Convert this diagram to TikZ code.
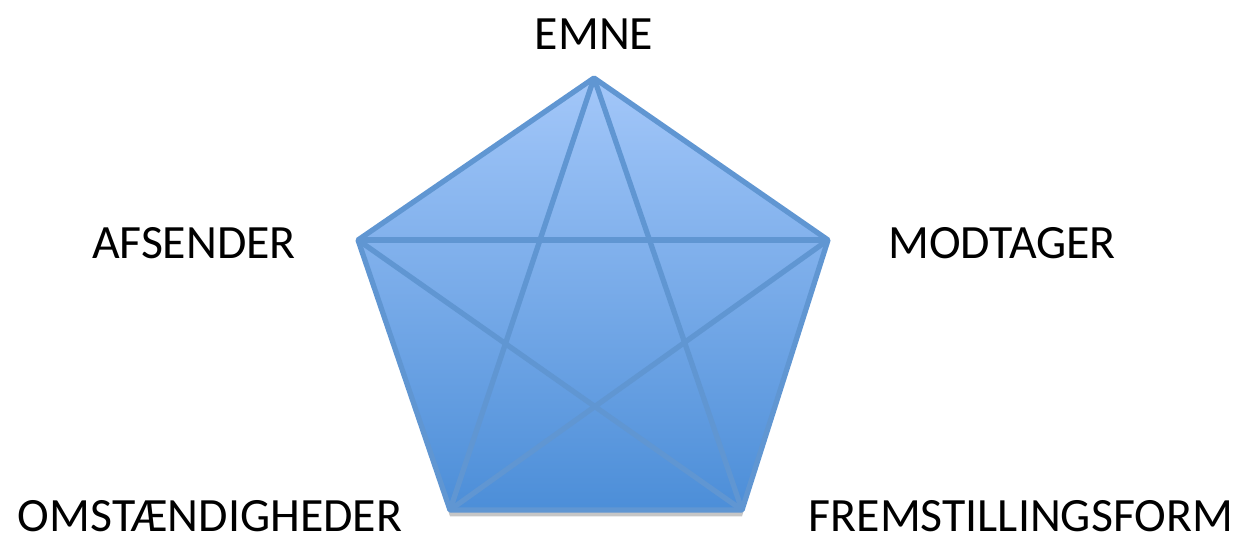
\documentclass[tikz,border=0pt]{standalone}
\usepackage{fontspec}
\setmainfont{Carlito}
\usetikzlibrary{shadows}
\definecolor{pentop}{RGB}{163, 199, 249}
\definecolor{penbot}{RGB}{76, 142, 216}
\definecolor{penline}{RGB}{96, 150, 210}

\begin{document}
\begin{tikzpicture}[label/.style={font=\fontsize{13.6}{16}\selectfont, text=black, inner sep=1pt}]
  \useasboundingbox (0,0) rectangle (12.47,5.40);

  % Corners of the pentagon
  \coordinate (E) at (5.94, 4.62);
  \coordinate (A) at (3.58, 3.00);
  \coordinate (M) at (8.28, 3.00);
  \coordinate (O) at (4.50, 0.30);
  \coordinate (F) at (7.42, 0.30);

  % Filled pentagon
  \shade[top color=pentop, bottom color=penbot,
    drop shadow={opacity=0.45, shadow xshift=0pt, shadow yshift=-1.8pt}]
    (E) -- (M) -- (F) -- (O) -- (A) -- cycle;

  % Edges and diagonals
  \draw[penline, line width=1.5pt, line join=round] (E) -- (M) -- (F) -- (O) -- (A) -- cycle;
  \foreach \p/\q in {E/O, E/F, A/M, A/F, M/O}
    \draw[penline, line width=1.5pt] (\p) -- (\q);

  % Labels
  \node[label] (emne) at (5.94, 5.06) {EMNE};
  \node[label] (afsender) at (1.94, 2.97) {AFSENDER};
  \node[label] (modtager) at (10.02, 2.97) {MODTAGER};
  \node[label] (omst) at (2.10, 0.24) {OMSTÆNDIGHEDER};
  \node[label] (frem) at (10.21, 0.24) {FREMSTILLINGSFORM};
\end{tikzpicture}
\end{document}
